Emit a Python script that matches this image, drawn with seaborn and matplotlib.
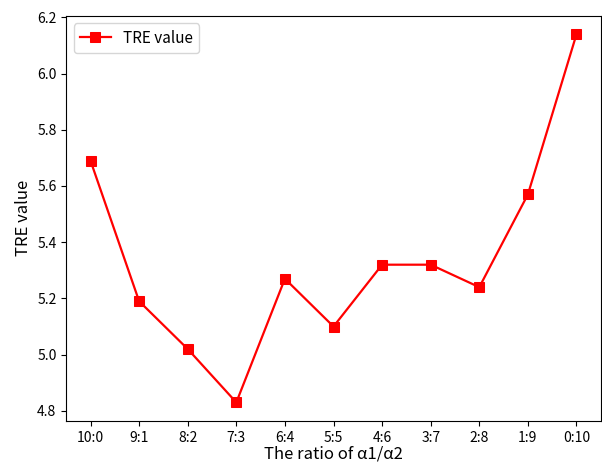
import seaborn as sns
import matplotlib.pyplot as plt
import pandas as pd

ratios = ['10:0', '9:1', '8:2', '7:3', '6:4', '5:5', '4:6', '3:7', '2:8', '1:9', '0:10']
tre = [5.69, 5.19, 5.02, 4.83, 5.27, 5.10, 5.32, 5.32, 5.24, 5.57, 6.14]

plt.rcParams['font.family'] = ['Noto Sans CJK SC', 'DejaVu Sans']
plt.rcParams['axes.unicode_minus'] = False

df = pd.DataFrame({'idx': range(len(ratios)), 'TRE': tre})

fig, ax = plt.subplots(figsize=(6.02, 4.65), dpi=100)
sns.lineplot(data=df, x='idx', y='TRE', marker='s', markersize=7, markeredgecolor='red',
             color='red', linewidth=1.6, label='TRE value', ax=ax)
ax.set_xticks(df['idx'])
ax.set_xticklabels(ratios, fontsize=10)
ax.tick_params(axis='y', labelsize=10)
ax.set_xlabel('The ratio of α1/α2', fontsize=12, labelpad=1)
ax.set_ylabel('TRE value', fontsize=12, labelpad=4)
ax.legend(loc='upper left', fontsize=11)
fig.subplots_adjust(left=0.11, right=0.998, top=0.966, bottom=0.095)
fig.savefig('out.png')
